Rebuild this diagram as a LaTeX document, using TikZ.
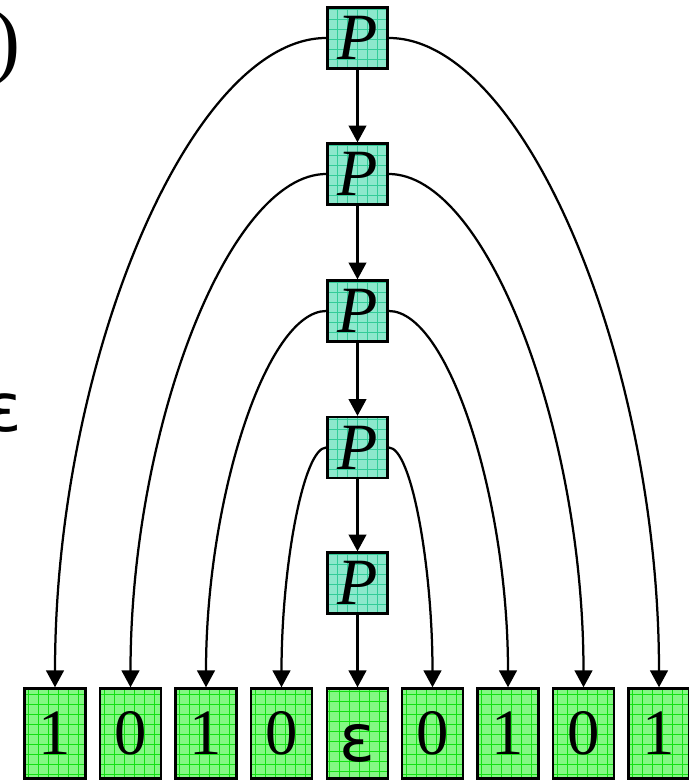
\documentclass[tikz,border=0pt]{standalone}
\usepackage{fontspec}
\setmainfont{Liberation Serif}
\newfontfamily\epsfont{DejaVu Sans}
\usetikzlibrary{positioning,arrows.meta}

\definecolor{pfill}{RGB}{140,232,204}
\definecolor{pgrid}{RGB}{50,204,152}
\definecolor{bitfill}{RGB}{132,248,132}
\definecolor{bitgrid}{RGB}{20,224,20}

\tikzset{
  prod/.style={draw, line width=1.7pt, fill=pfill, inner sep=0pt,
    minimum width=1.5cm, minimum height=1.52cm,
    font=\fontsize{47}{50}\selectfont\itshape,
    path picture={\draw[pgrid, line width=0.7pt] (path picture bounding box.south west) grid[step=0.25cm] (path picture bounding box.north east);}},
  bit/.style={draw, line width=1.7pt, fill=bitfill, inner sep=0pt,
    minimum width=1.52cm, minimum height=2.25cm,
    font=\fontsize{46}{50}\selectfont,
    path picture={\draw[bitgrid, line width=0.7pt] (path picture bounding box.south west) grid[step=0.25cm] (path picture bounding box.north east);}},
  edge/.style={line width=1.6pt, -{Triangle[width=0.44cm,length=0.42cm]}},
}

\begin{document}
\begin{tikzpicture}[x=0.025cm, y=0.025cm]
	\useasboundingbox (0,0) rectangle (689,781);

	% cut-off text at the left margin
	\node[anchor=base east, inner sep=0pt, font=\fontsize{60}{60}\selectfont] (paren) at (21,712) {)};
	\node[anchor=base east, inner sep=0pt, font=\epsfont\fontsize{48}{48}\selectfont] (eps) at (22,349) {ε};

	% chain of P
	\node[prod] (p1) at (357.5,743) {P};
	\node[prod] (p2) at (357.5,607) {P};
	\node[prod] (p3) at (357.5,470) {P};
	\node[prod] (p4) at (357.5,333.5) {P};
	\node[prod] (p5) at (357.5,198) {P};

	% the string 1010 eps 0101
	\node[bit] (b1) at (55,47.5) {1};
	\node[bit] (b2) at (130.5,47.5) {0};
	\node[bit] (b3) at (206,47.5) {1};
	\node[bit] (b4) at (281.5,47.5) {0};
	\node[bit, font=\epsfont\fontsize{47}{50}\selectfont, text height=1.4cm, text depth=0pt] (b5) at (357.5,47.5) {ε};
	\node[bit] (b6) at (432.5,47.5) {0};
	\node[bit] (b7) at (508,47.5) {1};
	\node[bit] (b8) at (583.5,47.5) {0};
	\node[bit] (b9) at (659,47.5) {1};

	\draw[edge] (p1) -- (p2);
	\draw[edge] (p2) -- (p3);
	\draw[edge] (p3) -- (p4);
	\draw[edge] (p4) -- (p5);
	\draw[edge] (p5) -- (b5);

	\draw[edge] (p1.west) .. controls +(-136,0) and +(0,325) .. (b1.north);
	\draw[edge] (p2.west) .. controls +(-98,0) and +(0,257) .. (b2.north);
	\draw[edge] (p3.west) .. controls +(-60,0) and +(0,188) .. (b3.north);
	\draw[edge] (p4.west) .. controls +(-23,0) and +(0,120) .. (b4.north);

	\draw[edge] (p4.east) .. controls +(23,0) and +(0,120) .. (b6.north);
	\draw[edge] (p3.east) .. controls +(60,0) and +(0,188) .. (b7.north);
	\draw[edge] (p2.east) .. controls +(98,0) and +(0,257) .. (b8.north);
	\draw[edge] (p1.east) .. controls +(136,0) and +(0,325) .. (b9.north);
\end{tikzpicture}
\end{document}
